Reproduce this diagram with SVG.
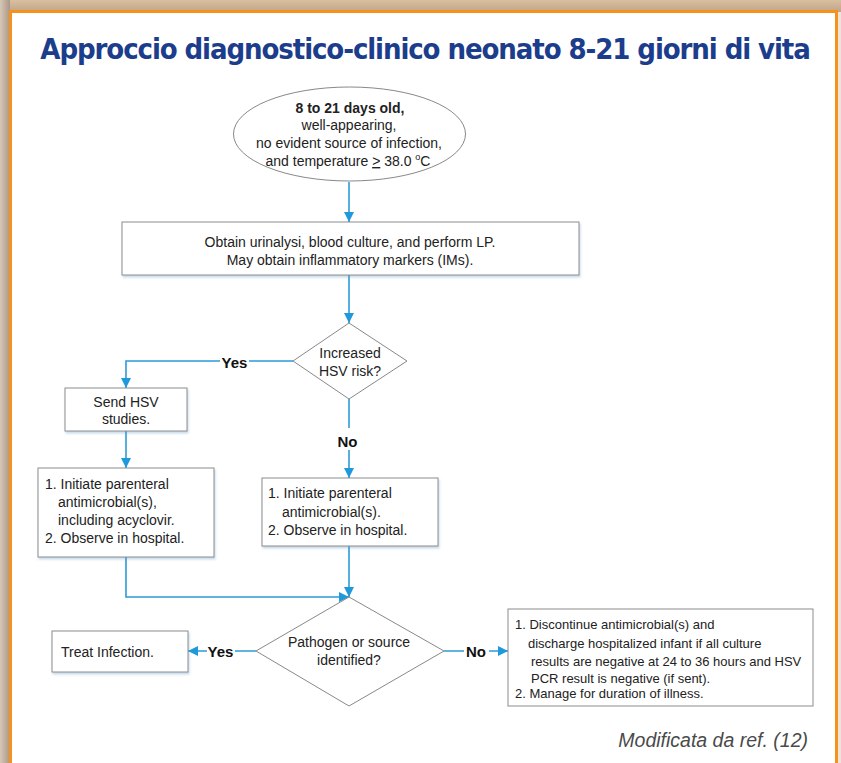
<svg xmlns="http://www.w3.org/2000/svg" width="841" height="763" viewBox="0 0 841 763">
<style>
.t{font-family:"Liberation Sans",Arial,sans-serif;font-size:14px;fill:#222}
.c{text-anchor:middle}
.b{font-weight:bold}
.r{font-size:13px}
.lbl{font-family:"Liberation Sans",Arial,sans-serif;font-size:15px;font-weight:bold;fill:#111;text-anchor:middle}
.box{fill:#fff;stroke:#8c8c8c;stroke-width:1}
.shape{fill:#fff;stroke:#7a7a7a;stroke-width:0.9}
.con{fill:none;stroke:#2b9bd8;stroke-width:1.6}
</style>
<defs>
<linearGradient id="topg" x1="0" y1="0" x2="0" y2="1">
<stop offset="0" stop-color="#d9bf9f"/>
<stop offset="1" stop-color="#c0a488"/>
</linearGradient>
<linearGradient id="leftg" x1="0" y1="0" x2="1" y2="0">
<stop offset="0" stop-color="#d8c7b4"/>
<stop offset="1" stop-color="#a8978a"/>
</linearGradient>
<marker id="ah" viewBox="0 0 10 10" refX="10" refY="5" markerWidth="10" markerHeight="10" markerUnits="userSpaceOnUse" orient="auto">
<path d="M0,0 L10,5 L0,10 z" fill="#1f98dc"/>
</marker>
<filter id="sh" x="-10%" y="-10%" width="120%" height="130%">
<feDropShadow dx="1" dy="2" stdDeviation="1.2" flood-color="#5d95c4" flood-opacity="0.35"/>
</filter>
</defs>

<!-- background and frame -->
<rect x="0" y="0" width="841" height="763" fill="#eee5da"/>
<rect x="0" y="0" width="841" height="12" fill="url(#topg)"/>
<rect x="0" y="0" width="10" height="763" fill="url(#leftg)"/>
<rect x="10.5" y="11.5" width="826" height="760" fill="#fff" stroke="#f5921e" stroke-width="3"/>

<text x="425" y="59" text-anchor="middle" font-family="'DejaVu Sans Condensed','Liberation Sans Narrow','Liberation Sans',Arial,sans-serif" font-size="29" font-weight="bold" letter-spacing="-1.1" fill="#1b3d8c">Approccio diagnostico-clinico neonato 8-21 giorni di vita</text>

<g id="connectors">
<path class="con" d="M349,182 V222" marker-end="url(#ah)"/>
<path class="con" d="M349,275 V323" marker-end="url(#ah)"/>
<path class="con" d="M293,361 H126 V388" marker-end="url(#ah)"/>
<path class="con" d="M126,431 V468" marker-end="url(#ah)"/>
<path class="con" d="M349,399 V478" marker-end="url(#ah)"/>
<path class="con" d="M126,557 V597 H349" marker-end="url(#ah)"/>
<path class="con" d="M349,546 V597" marker-end="url(#ah)"/>
<path class="con" d="M256,651 H188" marker-end="url(#ah)"/>
<path class="con" d="M444,651 H508" marker-end="url(#ah)"/>
<rect x="220" y="352" width="29" height="18" fill="#fff"/>
<text class="lbl" x="234.5" y="368">Yes</text>
<rect x="336" y="428" width="24" height="22" fill="#fff"/>
<text class="lbl" x="347.5" y="447">No</text>
<rect x="207" y="642" width="28" height="18" fill="#fff"/>
<text class="lbl" x="220.5" y="657">Yes</text>
<rect x="464" y="642" width="25" height="18" fill="#fff"/>
<text class="lbl" x="476" y="657">No</text>
</g>

<g id="start">
<ellipse class="shape" cx="349.5" cy="134" rx="116" ry="47"/>
<text class="t c b" x="350" y="113">8 to 21 days old,</text>
<text class="t c" x="349" y="130">well-appearing,</text>
<text class="t c" x="349" y="148">no evident source of infection,</text>
<text class="t c" x="348" y="166">and temperature <tspan text-decoration="underline">&gt;</tspan> 38.0 <tspan font-size="9" dy="-6">o</tspan><tspan dy="6">C</tspan></text>
</g>

<g id="obtain">
<rect class="box" x="122" y="222" width="457" height="53" filter="url(#sh)"/>
<text class="t c" x="350" y="247">Obtain urinalysi, blood culture, and perform LP.</text>
<text class="t c" x="350" y="265">May obtain inflammatory markers (IMs).</text>
</g>

<g id="hsvrisk">
<path class="shape" d="M349,323 L407,361 L349,399 L293,361 Z"/>
<text class="t c" x="350" y="358">Increased</text>
<text class="t c" x="350" y="376">HSV risk?</text>
</g>

<g id="sendhsv">
<rect class="box" x="65" y="388" width="122" height="43" filter="url(#sh)"/>
<text class="t c" x="126" y="407">Send HSV</text>
<text class="t c" x="126" y="424">studies.</text>
</g>

<g id="leftplan">
<rect class="box" x="38" y="468" width="176" height="89" filter="url(#sh)"/>
<text class="t" x="45" y="489">1. Initiate parenteral</text>
<text class="t" x="58" y="507">antimicrobial(s),</text>
<text class="t" x="58" y="525">including acyclovir.</text>
<text class="t" x="45" y="543">2. Observe in hospital.</text>
</g>

<g id="midplan">
<rect class="box" x="262" y="478" width="176" height="68" filter="url(#sh)"/>
<text class="t" x="268" y="498">1. Initiate parenteral</text>
<text class="t" x="282" y="517">antimicrobial(s).</text>
<text class="t" x="268" y="535">2. Observe in hospital.</text>
</g>

<g id="pathogen">
<path class="shape" d="M349,597 L444,651 L349,706 L256,651 Z"/>
<text class="t c" x="349" y="647">Pathogen or source</text>
<text class="t c" x="349" y="665">identified?</text>
</g>

<g id="treat">
<rect class="box" x="52" y="631" width="136" height="41" filter="url(#sh)"/>
<text class="t" x="61" y="657">Treat Infection.</text>
</g>

<g id="discontinue">
<rect class="box" x="508" y="609" width="305" height="97"/>
<text class="t r" x="515" y="629">1. Discontinue antimicrobial(s) and</text>
<text class="t r" x="528" y="648">discharge hospitalized infant if all culture</text>
<text class="t r" x="531" y="666">results are negative at 24 to 36 hours and HSV</text>
<text class="t r" x="531" y="683">PCR result is negative (if sent).</text>
<text class="t r" x="515" y="698">2. Manage for duration of illness.</text>
</g>

<text x="808" y="747" text-anchor="end" font-family="'Liberation Sans',Arial,sans-serif" font-style="italic" font-size="19.5" fill="#4a4a4a">Modificata da ref. (12)</text>
</svg>
